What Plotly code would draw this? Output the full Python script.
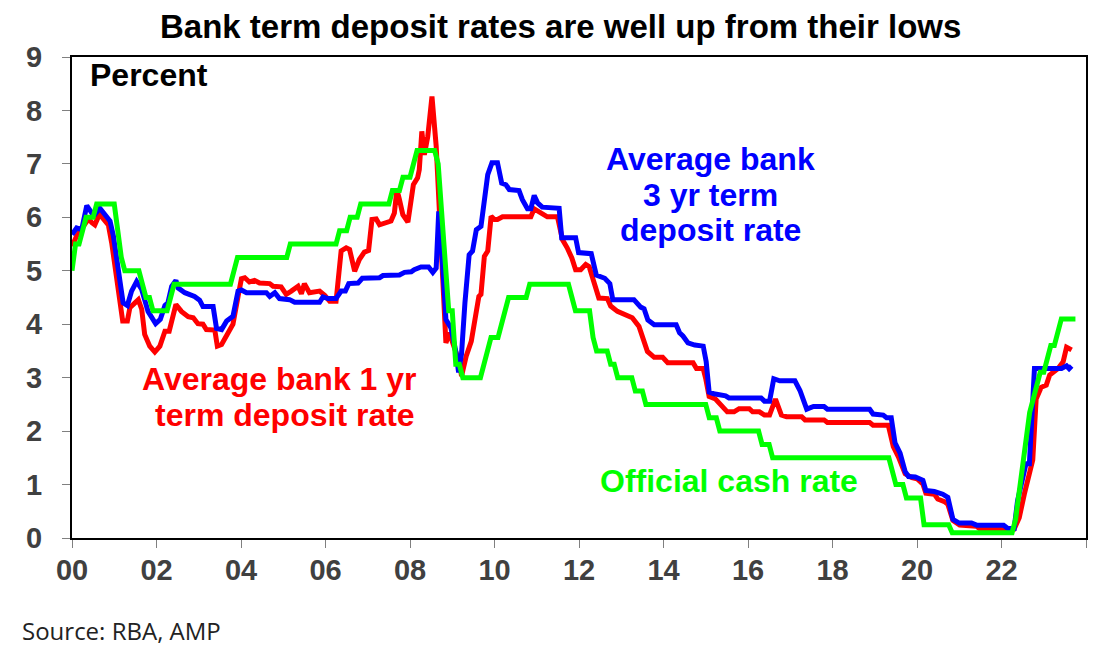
import plotly.graph_objects as go

# Official cash rate, monthly values Jan 2000 - Oct 2023 (one row per year)
cash_years = list(range(2000, 2024))
cash_rate = [
    [5.00, 5.50, 5.50, 5.75, 6.00, 6.00, 6.00, 6.25, 6.25, 6.25, 6.25, 6.25],
    [6.25, 5.75, 5.25, 5.00, 5.00, 5.00, 5.00, 5.00, 4.75, 4.50, 4.50, 4.25],
    [4.25, 4.25, 4.25, 4.25, 4.50, 4.75, 4.75, 4.75, 4.75, 4.75, 4.75, 4.75],
    [4.75, 4.75, 4.75, 4.75, 4.75, 4.75, 4.75, 4.75, 4.75, 4.75, 5.00, 5.25],
    [5.25, 5.25, 5.25, 5.25, 5.25, 5.25, 5.25, 5.25, 5.25, 5.25, 5.25, 5.25],
    [5.25, 5.25, 5.50, 5.50, 5.50, 5.50, 5.50, 5.50, 5.50, 5.50, 5.50, 5.50],
    [5.50, 5.50, 5.50, 5.50, 5.75, 5.75, 5.75, 6.00, 6.00, 6.00, 6.25, 6.25],
    [6.25, 6.25, 6.25, 6.25, 6.25, 6.25, 6.25, 6.50, 6.50, 6.50, 6.75, 6.75],
    [6.75, 7.00, 7.25, 7.25, 7.25, 7.25, 7.25, 7.25, 7.00, 6.00, 5.25, 4.25],
    [4.25, 3.25, 3.25, 3.00, 3.00, 3.00, 3.00, 3.00, 3.00, 3.25, 3.50, 3.75],
    [3.75, 3.75, 4.00, 4.25, 4.50, 4.50, 4.50, 4.50, 4.50, 4.50, 4.75, 4.75],
    [4.75, 4.75, 4.75, 4.75, 4.75, 4.75, 4.75, 4.75, 4.75, 4.75, 4.50, 4.25],
    [4.25, 4.25, 4.25, 4.25, 3.75, 3.50, 3.50, 3.50, 3.50, 3.25, 3.25, 3.00],
    [3.00, 3.00, 3.00, 3.00, 2.75, 2.75, 2.75, 2.50, 2.50, 2.50, 2.50, 2.50],
    [2.50, 2.50, 2.50, 2.50, 2.50, 2.50, 2.50, 2.50, 2.50, 2.50, 2.50, 2.50],
    [2.50, 2.25, 2.25, 2.25, 2.00, 2.00, 2.00, 2.00, 2.00, 2.00, 2.00, 2.00],
    [2.00, 2.00, 2.00, 2.00, 1.75, 1.75, 1.75, 1.50, 1.50, 1.50, 1.50, 1.50],
    [1.50, 1.50, 1.50, 1.50, 1.50, 1.50, 1.50, 1.50, 1.50, 1.50, 1.50, 1.50],
    [1.50, 1.50, 1.50, 1.50, 1.50, 1.50, 1.50, 1.50, 1.50, 1.50, 1.50, 1.50],
    [1.50, 1.50, 1.50, 1.50, 1.50, 1.25, 1.00, 1.00, 1.00, 0.75, 0.75, 0.75],
    [0.75, 0.75, 0.25, 0.25, 0.25, 0.25, 0.25, 0.25, 0.25, 0.25, 0.10, 0.10],
    [0.10, 0.10, 0.10, 0.10, 0.10, 0.10, 0.10, 0.10, 0.10, 0.10, 0.10, 0.10],
    [0.10, 0.10, 0.10, 0.10, 0.35, 0.85, 1.35, 1.85, 2.35, 2.60, 2.85, 3.10],
    [3.10, 3.35, 3.60, 3.60, 3.85, 4.10, 4.10, 4.10, 4.10, 4.10],
]

# Average bank 3 yr term deposit rate (decimal year, percent)
td3_x = [2000.00, 2000.11, 2000.23, 2000.35, 2000.47, 2000.54, 2000.66, 2000.78, 2000.90, 2000.98,
         2001.06, 2001.13, 2001.21, 2001.31, 2001.41, 2001.53, 2001.65, 2001.80, 2001.98,
         2002.09, 2002.20, 2002.27, 2002.36, 2002.46, 2002.51, 2002.67, 2002.90,
         2003.02, 2003.10, 2003.34, 2003.42, 2003.54, 2003.66, 2003.81, 2003.93,
         2004.01, 2004.13, 2004.60, 2004.68, 2004.80, 2004.91, 2005.15, 2005.27, 2005.86, 2005.94,
         2006.06, 2006.25, 2006.37, 2006.47, 2006.55, 2006.77, 2006.87,
         2007.28, 2007.36, 2007.75, 2007.87, 2008.03, 2008.10, 2008.26, 2008.44, 2008.54, 2008.62,
         2008.68, 2008.73, 2008.79, 2008.85, 2008.97, 2009.09, 2009.15, 2009.22, 2009.30, 2009.40,
         2009.48, 2009.57, 2009.68, 2009.76, 2009.84, 2009.94, 2010.07, 2010.17, 2010.27, 2010.35,
         2010.58, 2010.66, 2010.78, 2010.86, 2010.94, 2011.02, 2011.13, 2011.53, 2011.59, 2011.92,
         2011.99, 2012.29, 2012.41, 2012.61, 2012.73, 2012.80, 2013.30, 2013.46, 2013.54, 2013.63,
         2013.78, 2014.30, 2014.38, 2014.46, 2014.58, 2014.74, 2014.94, 2015.01, 2015.08, 2015.19,
         2015.47, 2015.55, 2016.31, 2016.39, 2016.51, 2016.61, 2016.75, 2017.11, 2017.23, 2017.39,
         2017.55, 2017.80, 2017.88, 2018.88, 2018.96, 2019.20, 2019.28, 2019.39, 2019.48, 2019.60,
         2019.72, 2019.80, 2019.96, 2020.14, 2020.21, 2020.41, 2020.61, 2020.73, 2020.85, 2021.00,
         2021.29, 2021.41, 2022.05, 2022.15, 2022.30, 2022.38, 2022.50, 2022.58, 2022.66, 2022.78,
         2023.42, 2023.54, 2023.60, 2023.66]
td3_y = [5.68, 5.80, 5.77, 6.22, 6.08, 6.05, 6.17, 6.05, 5.93, 5.65,
         5.15, 4.90, 4.40, 4.35, 4.62, 4.80, 4.65, 4.24, 4.01,
         4.09, 4.35, 4.40, 4.71, 4.82, 4.68, 4.59, 4.52,
         4.45, 4.33, 4.33, 3.92, 3.90, 4.06, 4.15, 4.62,
         4.64, 4.59, 4.59, 4.52, 4.59, 4.48, 4.46, 4.41, 4.41, 4.51,
         4.48, 4.48, 4.62, 4.62, 4.76, 4.77, 4.86,
         4.87, 4.91, 4.92, 4.97, 4.98, 5.02, 5.07, 5.07, 4.97, 5.05,
         6.11, 5.65, 4.84, 4.09, 3.93, 3.47, 3.10, 3.45, 4.40, 5.30,
         5.37, 5.77, 5.83, 6.30, 6.80, 7.02, 7.02, 6.64, 6.61, 6.52,
         6.50, 6.33, 6.16, 6.16, 6.41, 6.27, 6.19, 6.17, 5.62, 5.62,
         5.34, 5.32, 4.92, 4.86, 4.76, 4.46, 4.46, 4.32, 4.29, 4.08,
         3.99, 3.99, 3.84, 3.78, 3.65, 3.61, 3.59, 3.30, 2.73, 2.70,
         2.66, 2.62, 2.62, 2.56, 2.56, 2.98, 2.94, 2.94, 2.76, 2.41,
         2.46, 2.46, 2.41, 2.41, 2.32, 2.30, 2.25, 2.25, 1.78, 1.59,
         1.24, 1.15, 1.14, 1.08, 0.89, 0.87, 0.82, 0.76, 0.35, 0.28,
         0.28, 0.24, 0.24, 0.18, 0.18, 0.70, 1.08, 1.39, 1.39, 3.17,
         3.17, 3.22, 3.17, 3.22]

# Average bank 1 yr term deposit rate (decimal year, percent)
td1_x = [2000.00, 2000.11, 2000.27, 2000.39, 2000.47, 2000.54, 2000.65, 2000.74, 2000.86, 2000.94,
         2001.06, 2001.13, 2001.20, 2001.31, 2001.37, 2001.49, 2001.57, 2001.65, 2001.72, 2001.84,
         2001.96, 2002.08, 2002.20, 2002.30, 2002.36, 2002.46, 2002.59, 2002.75, 2002.87, 2002.98,
         2003.10, 2003.18, 2003.38, 2003.44, 2003.54, 2003.66, 2003.81, 2003.93, 2004.01, 2004.09,
         2004.20, 2004.32, 2004.44, 2004.68, 2004.76, 2004.95, 2005.07, 2005.19, 2005.35, 2005.43,
         2005.50, 2005.62, 2005.78, 2005.86, 2005.98, 2006.10, 2006.25, 2006.37, 2006.49, 2006.57,
         2006.69, 2006.80, 2006.92, 2007.02, 2007.10, 2007.20, 2007.28, 2007.43, 2007.55, 2007.63,
         2007.69, 2007.75, 2007.83, 2007.95, 2008.03, 2008.08, 2008.18, 2008.22, 2008.28, 2008.34,
         2008.42, 2008.52, 2008.62, 2008.68, 2008.73, 2008.79, 2008.85, 2008.93, 2009.05, 2009.17,
         2009.22, 2009.33, 2009.45, 2009.56, 2009.63, 2009.68, 2009.76, 2009.84, 2009.92, 2010.00,
         2010.07, 2010.19, 2010.86, 2010.94, 2011.13, 2011.25, 2011.49, 2011.61, 2011.72, 2011.83,
         2011.92, 2012.04, 2012.16, 2012.24, 2012.36, 2012.47, 2012.67, 2012.75, 2012.91, 2013.10,
         2013.26, 2013.42, 2013.50, 2013.62, 2013.78, 2013.98, 2014.10, 2014.70, 2014.78, 2014.94,
         2015.00, 2015.08, 2015.23, 2015.37, 2015.51, 2015.67, 2015.79, 2016.03, 2016.11, 2016.27,
         2016.39, 2016.51, 2016.65, 2016.79, 2016.91, 2017.27, 2017.35, 2017.80, 2017.88, 2018.88,
         2018.96, 2019.32, 2019.44, 2019.56, 2019.72, 2019.88, 2020.00, 2020.14, 2020.21, 2020.41,
         2020.49, 2020.65, 2020.73, 2020.85, 2021.01, 2021.41, 2021.49, 2022.30, 2022.42, 2022.54,
         2022.66, 2022.74, 2022.82, 2022.94, 2023.06, 2023.14, 2023.34, 2023.46, 2023.54, 2023.66]
td1_y = [5.46, 5.65, 5.83, 5.97, 5.90, 5.86, 6.06, 5.96, 5.86, 5.52,
         4.90, 4.41, 4.06, 4.06, 4.31, 4.40, 4.46, 4.28, 3.81, 3.59,
         3.48, 3.59, 3.87, 3.87, 4.09, 4.37, 4.24, 4.14, 4.12, 4.01,
         4.00, 3.90, 3.89, 3.59, 3.62, 3.78, 4.00, 4.52, 4.85, 4.87,
         4.79, 4.82, 4.77, 4.76, 4.71, 4.70, 4.56, 4.62, 4.71, 4.57,
         4.76, 4.59, 4.62, 4.62, 4.54, 4.43, 4.43, 5.37, 5.43, 5.40,
         4.99, 5.21, 5.35, 5.38, 5.96, 5.97, 5.86, 5.90, 5.93, 6.08,
         6.52, 6.33, 6.05, 5.91, 6.42, 6.61, 6.74, 6.89, 7.61, 7.17,
         7.51, 8.26, 7.33, 6.39, 5.46, 4.52, 3.65, 3.84, 3.59, 3.28,
         3.03, 3.40, 3.68, 4.21, 4.52, 4.56, 5.27, 5.37, 6.02, 5.96,
         5.96, 6.01, 6.01, 6.16, 6.08, 6.01, 6.01, 5.58, 5.43, 5.24,
         5.02, 5.02, 5.12, 5.08, 4.77, 4.49, 4.48, 4.34, 4.24, 4.18,
         4.12, 3.96, 3.75, 3.49, 3.38, 3.38, 3.28, 3.28, 3.17, 3.17,
         2.98, 2.65, 2.60, 2.47, 2.36, 2.36, 2.42, 2.42, 2.36, 2.36,
         2.30, 2.30, 2.60, 2.30, 2.27, 2.27, 2.21, 2.21, 2.16, 2.16,
         2.11, 2.11, 1.71, 1.52, 1.20, 1.13, 1.11, 1.01, 0.84, 0.82,
         0.73, 0.68, 0.63, 0.33, 0.24, 0.22, 0.17, 0.17, 0.38, 0.82,
         1.20, 1.46, 2.60, 2.82, 2.86, 3.05, 3.17, 3.30, 3.57, 3.52]

tick_years = [2000, 2002, 2004, 2006, 2008, 2010, 2012, 2014, 2016, 2018, 2020, 2022, 2024]
tick_text = ['00', '02', '04', '06', '08', '10', '12', '14', '16', '18', '20', '22', '']

cash_x = []
cash_y = []
for yr, row in zip(cash_years, cash_rate):
    for m, v in enumerate(row):
        cash_x.append(yr + m / 12.0)
        cash_y.append(v)

FONT = 'Liberation Sans, Arial, sans-serif'
BLUE = '#0000FF'
RED = '#FF0000'
GREEN = '#00FF00'

fig = go.Figure()
fig.add_trace(go.Scatter(x=td1_x, y=td1_y, mode='lines', line=dict(color=RED, width=5),
                         name='1 yr'))
fig.add_trace(go.Scatter(x=td3_x, y=td3_y, mode='lines', line=dict(color=BLUE, width=5),
                         name='3 yr'))
fig.add_trace(go.Scatter(x=cash_x, y=cash_y, mode='lines', line=dict(color=GREEN, width=5),
                         name='cash'))


def label(text, x, y, color, size=32, anchor='center'):
    fig.add_annotation(text='<b>' + text + '</b>', x=x, y=y, xref='paper', yref='paper',
                       xanchor=anchor, yanchor='middle', showarrow=False,
                       font=dict(family=FONT, size=size, color=color))


# page has an 8px body margin, so the figure is 1110x646 and the plot area
# lands at 72..1086 x 57..538 in the window
label('Bank term deposit rates are well up from their lows', 0.482, 1.064, 'black', size=33)
label('Percent', 0.016, 0.963, 'black', size=32, anchor='left')
label('Average bank', 0.630, 0.787, BLUE)
label('3 yr term', 0.630, 0.714, BLUE)
label('deposit rate', 0.630, 0.641, BLUE)
label('Average bank 1 yr', 0.205, 0.331, RED)
label('term deposit rate', 0.210, 0.256, RED)
label('Official cash rate', 0.648, 0.118, GREEN)

fig.add_annotation(text='Source: RBA, AMP', x=-0.051, y=-0.192, xref='paper', yref='paper',
                   xanchor='left', yanchor='middle', showarrow=False,
                   font=dict(family='Open Sans, sans-serif', size=24, color='#222222'))

axis_common = dict(showline=True, linecolor='black', linewidth=2, mirror=True,
                   showgrid=False, zeroline=False, ticks='outside', ticklen=8,
                   tickcolor='#808080', tickwidth=1, automargin=False,
                   tickfont=dict(family=FONT, size=29, color='#404040', weight='bold'))

fig.update_layout(
    width=1110, height=646,
    margin=dict(l=64, r=32, t=49, b=116),
    paper_bgcolor='white', plot_bgcolor='white',
    showlegend=False,
    xaxis=dict(range=[2000, 2024], tickvals=tick_years, ticktext=tick_text,
               ticklabelstandoff=-3, **axis_common),
    yaxis=dict(range=[0, 9], tickvals=list(range(10)), ticklabelstandoff=14,
               **axis_common),
)

fig.write_html('out.html')
